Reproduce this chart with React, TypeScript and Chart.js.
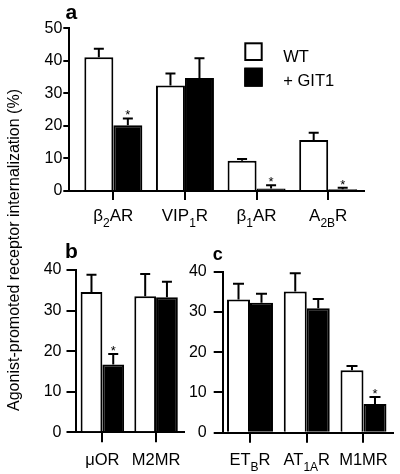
import React, { useEffect, useRef } from 'react';
import { Chart, registerables } from 'chart.js';

Chart.register(...registerables);

const FONT = '"Liberation Sans", Arial, Helvetica, sans-serif';

// ---- data ----
const seriesNames = ['WT', '+ GIT1'];
const yTitle = 'Agonist-promoted receptor internalization (%)';

const catsA = ['β_{2}AR', 'VIP_{1}R', 'β_{1}AR', 'A_{2B}R'];
const wtA = [41.1, 32.4, 9.3, 15.7];
const wtErrA = [2.6, 3.7, 0.5, 2.2];
const gitA = [20.2, 34.7, 0.8, 0.5];
const gitErrA = [2.1, 6.1, 1.0, 0.5];
const sigA = [true, false, true, true];
const ticksA = [0, 10, 20, 30, 40, 50];

const catsB = ['μOR', 'M2MR'];
const wtB = [34.6, 33.5];
const wtErrB = [4.2, 5.5];
const gitB = [16.7, 33.3];
const gitErrB = [2.6, 3.8];
const sigB = [true, false];

const catsC = ['ET_{B}R', 'AT_{1A}R', 'M1MR'];
const wtC = [33.1, 35.1, 15.5];
const wtErrC = [3.9, 4.5, 1.1];
const gitC = [32.3, 30.9, 7.1];
const gitErrC = [2.2, 2.3, 1.8];
const sigC = [false, false, true];

const ticksBC = [0, 10, 20, 30, 40];

// ---- layout ----
const W = 400;
const H = 474;
const Y_W = 60;
const X_H = 20;

type PanelSpec = {
  letter: string;
  letterSize: number;
  letterX: number;
  letterY: number;
  cats: string[];
  wt: number[];
  wtErr: number[];
  git: number[];
  gitErr: number[];
  sig: boolean[];
  yTicks: number[];
  area: { l: number; t: number; r: number; b: number };
  xMin: number;
  xMax: number;
  yTickLen: number;
  yTickPad: number;
  xTickLen: number;
  capW: number;
  labelSize: number;
  subSize: number;
  subDy: number;
  labelY: number;
  legend?: boolean;
  title?: boolean;
};

const panels: PanelSpec[] = [
  {
    letter: 'a', letterSize: 21, letterX: 65.5, letterY: 19,
    cats: catsA, wt: wtA, wtErr: wtErrA, git: gitA, gitErr: gitErrA, sig: sigA, yTicks: ticksA,
    area: { l: 69.3, t: 28.3, r: 364, b: 191 }, xMin: -0.615, xMax: 3.5,
    yTickLen: 6, yTickPad: 1, xTickLen: 9, capW: 10,
    labelSize: 17, subSize: 12, subDy: 6, labelY: 221, legend: true, title: true,
  },
  {
    letter: 'b', letterSize: 21, letterX: 65, letterY: 258.3,
    cats: catsB, wt: wtB, wtErr: wtErrB, git: gitB, gitErr: gitErrB, sig: sigB, yTicks: ticksBC,
    area: { l: 75.5, t: 270, r: 184, b: 432.3 }, xMin: -0.5, xMax: 1.52,
    yTickLen: 9, yTickPad: 5, xTickLen: 10, capW: 10,
    labelSize: 16.5, subSize: 12, subDy: 6, labelY: 465,
  },
  {
    letter: 'c', letterSize: 18, letterX: 212.7, letterY: 260,
    cats: catsC, wt: wtC, wtErr: wtErrC, git: gitC, gitErr: gitErrC, sig: sigC, yTicks: ticksBC,
    area: { l: 222.7, t: 271.7, r: 393, b: 432.7 }, xMin: -0.481, xMax: 2.52,
    yTickLen: 9, yTickPad: 7, xTickLen: 10, capW: 11,
    labelSize: 16.5, subSize: 12, subDy: 6, labelY: 465,
  },
];

function parseLabel(s: string): { t: string; sub: boolean }[] {
  const out: { t: string; sub: boolean }[] = [];
  const re = /_\{([^}]*)\}/g;
  let last = 0;
  let m: RegExpExecArray | null;
  while ((m = re.exec(s))) {
    if (m.index > last) out.push({ t: s.slice(last, m.index), sub: false });
    out.push({ t: m[1], sub: true });
    last = m.index + m[0].length;
  }
  if (last < s.length) out.push({ t: s.slice(last), sub: false });
  return out;
}

function drawLabel(ctx: CanvasRenderingContext2D, s: string, cx: number, y: number, size: number, subSize: number, subDy: number) {
  const segs = parseLabel(s);
  let total = 0;
  const widths = segs.map((sg) => {
    ctx.font = `${sg.sub ? subSize : size}px ${FONT}`;
    const w = ctx.measureText(sg.t).width;
    total += w;
    return w;
  });
  let x = cx - total / 2;
  ctx.textAlign = 'left';
  ctx.textBaseline = 'alphabetic';
  segs.forEach((sg, k) => {
    ctx.font = `${sg.sub ? subSize : size}px ${FONT}`;
    ctx.fillText(sg.t, x, y + (sg.sub ? subDy : 0));
    x += widths[k];
  });
}

function makeDecor(p: PanelSpec) {
  return {
    id: 'decor_' + p.letter,
    afterDatasetsDraw(chart: any) {
      const ctx: CanvasRenderingContext2D = chart.ctx;
      const xs = chart.scales.x;
      const ys = chart.scales.y;
      ctx.save();
      ctx.strokeStyle = '#000';
      ctx.fillStyle = '#000';
      ctx.lineWidth = 2;
      ctx.lineCap = 'butt';
      const vals = [p.wt, p.git];
      const errs = [p.wtErr, p.gitErr];
      for (let d = 0; d < 2; d++) {
        const meta = chart.getDatasetMeta(d);
        meta.data.forEach((el: any, i: number) => {
          const top = ys.getPixelForValue(vals[d][i] + errs[d][i]);
          ctx.beginPath();
          ctx.moveTo(el.x, el.y);
          ctx.lineTo(el.x, top);
          ctx.moveTo(el.x - p.capW / 2, top);
          ctx.lineTo(el.x + p.capW / 2, top);
          ctx.stroke();
          if (d === 1 && p.sig[i]) {
            ctx.font = `13px ${FONT}`;
            ctx.textAlign = 'center';
            ctx.textBaseline = 'alphabetic';
            ctx.fillText('*', el.x, top + 1);
          }
        });
      }
      // category labels
      p.cats.forEach((c, i) => {
        drawLabel(ctx, c, xs.getPixelForValue(i), p.labelY, p.labelSize, p.subSize, p.subDy);
      });
      // panel letter
      ctx.font = `bold ${p.letterSize}px ${FONT}`;
      ctx.textAlign = 'left';
      ctx.textBaseline = 'alphabetic';
      ctx.fillText(p.letter, p.letterX, p.letterY);
      // legend
      if (p.legend) {
        const ds = chart.data.datasets;
        const boxes = [
          { x: 244.3, y: 42.3, h: 18.7, base: 61.5 },
          { x: 244.3, y: 67.7, h: 19, base: 86.2 },
        ];
        ds.forEach((d: any, k: number) => {
          const b = boxes[k];
          ctx.fillStyle = d.backgroundColor;
          ctx.fillRect(b.x, b.y, 18.4, b.h);
          ctx.strokeStyle = '#000';
          ctx.lineWidth = 2;
          ctx.strokeRect(b.x + 1, b.y + 1, 16.4, b.h - 2);
          ctx.fillStyle = '#000';
          ctx.font = `16.5px ${FONT}`;
          ctx.textAlign = 'left';
          ctx.textBaseline = 'alphabetic';
          ctx.fillText(d.label, 283.3, b.base);
        });
      }
      if (p.title) {
        ctx.save();
        ctx.translate(19.3, 250);
        ctx.rotate(-Math.PI / 2);
        ctx.font = `16px ${FONT}`;
        ctx.textAlign = 'center';
        ctx.textBaseline = 'alphabetic';
        ctx.fillStyle = '#000';
        ctx.fillText(yTitle, 0, 0);
        ctx.restore();
      }
      ctx.restore();
    },
  };
}

function buildConfig(p: PanelSpec): any {
  const yMax = p.yTicks[p.yTicks.length - 1];
  return {
    type: 'bar',
    data: {
      datasets: [
        {
          label: seriesNames[0],
          data: p.wt.map((v, i) => ({ x: i, y: v })),
          backgroundColor: '#ffffff',
          borderColor: '#000000',
          borderWidth: 2,
          barPercentage: 1,
          categoryPercentage: 0.81,
        },
        {
          label: seriesNames[1],
          data: p.git.map((v, i) => ({ x: i, y: v })),
          backgroundColor: '#000000',
          borderColor: '#000000',
          borderWidth: 2,
          barPercentage: 1,
          categoryPercentage: 0.81,
        },
      ],
    },
    options: {
      responsive: false,
      animation: false,
      devicePixelRatio: 1,
      events: [],
      layout: {
        padding: {
          left: p.area.l - Y_W,
          top: p.area.t,
          right: W - p.area.r,
          bottom: H - p.area.b - X_H,
        },
      },
      plugins: { legend: { display: false }, tooltip: { enabled: false }, title: { display: false } },
      scales: {
        x: {
          type: 'linear',
          min: p.xMin,
          max: p.xMax,
          bounds: 'data',
          offset: false,
          z: 1,
          afterBuildTicks: (s: any) => {
            s.ticks = p.cats.map((_, i) => ({ value: i }));
          },
          afterFit: (s: any) => {
            s.height = X_H;
          },
          ticks: { display: false },
          grid: {
            display: true,
            offset: false,
            drawOnChartArea: false,
            drawTicks: true,
            tickLength: p.xTickLen,
            color: '#000',
            lineWidth: 2,
          },
          border: { display: true, color: '#000', width: 2 },
        },
        y: {
          type: 'linear',
          min: 0,
          max: yMax,
          z: 1,
          afterBuildTicks: (s: any) => {
            s.ticks = p.yTicks.map((v) => ({ value: v }));
          },
          afterFit: (s: any) => {
            s.width = Y_W;
          },
          ticks: { color: '#000', font: { family: FONT, size: 16 }, padding: p.yTickPad },
          grid: {
            display: true,
            drawOnChartArea: false,
            drawTicks: true,
            tickLength: p.yTickLen,
            color: '#000',
            lineWidth: 2,
          },
          border: { display: true, color: '#000', width: 2 },
        },
      },
    },
    plugins: [makeDecor(p)],
  };
}

function PanelChart({ p }: { p: PanelSpec }) {
  const ref = useRef<HTMLCanvasElement>(null);
  useEffect(() => {
    const chart = new Chart(ref.current as HTMLCanvasElement, buildConfig(p));
    return () => chart.destroy();
  }, [p]);
  return (
    <canvas
      ref={ref}
      width={W}
      height={H}
      style={{ position: 'absolute', left: 0, top: 0, width: W, height: H }}
    />
  );
}

export default function App() {
  return (
    <div style={{ position: 'absolute', left: 0, top: 0, width: W, height: H, background: '#fff' }}>
      {panels.map((p) => (
        <PanelChart key={p.letter} p={p} />
      ))}
    </div>
  );
}
